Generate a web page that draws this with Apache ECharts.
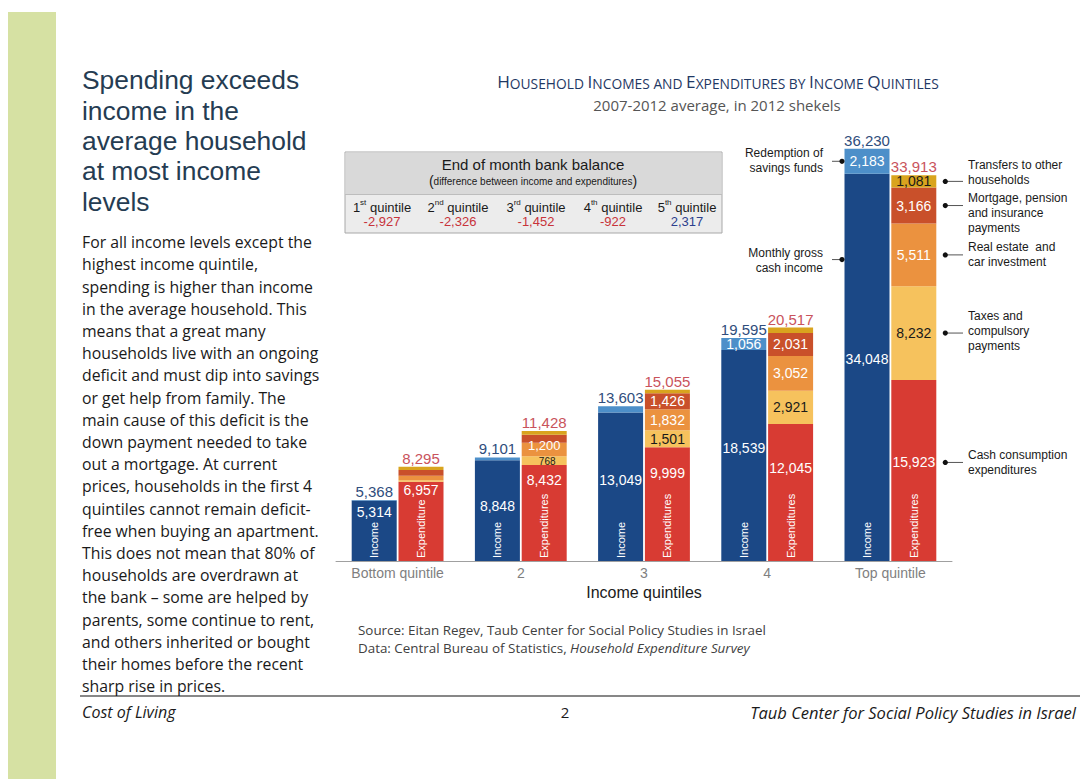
<!DOCTYPE html>
<html>
<head>
<meta charset="utf-8">
<title>Household Incomes and Expenditures by Income Quintiles</title>
<script src="https://cdn.jsdelivr.net/npm/echarts@6/dist/echarts.min.js"></script>
<style>
  html, body { margin: 0; padding: 0; background: #fff; }
  #main { width: 1080px; height: 779px; }
</style>
</head>
<body>
<div id="main"></div>
<script>
// Monthly household figures, 2007-2012 average, in 2012 shekels
const categories = ['Bottom quintile', '2', '3', '4', 'Top quintile'];

// Income stack
const incomeCash = [5314, 8848, 13049, 18539, 34048];      // monthly gross cash income
const incomeSavings = [54, 253, 554, 1056, 2183];           // redemption of savings funds
const incomeTotal = [5368, 9101, 13603, 19595, 36230];

// Expenditure stack (bottom to top)
const expConsumption = [6957, 8432, 9999, 12045, 15923];   // cash consumption expenditures
const expTaxes = [138, 768, 1501, 2921, 8232];             // taxes and compulsory payments
const expRealEstate = [390, 1200, 1832, 3052, 5511];       // real estate and car investment
const expMortgage = [520, 700, 1426, 2031, 3166];          // mortgage, pension and insurance
const expTransfers = [290, 328, 297, 468, 1081];           // transfers to other households
const expTotal = [8295, 11428, 15055, 20517, 33913];

// End of month bank balance
const balanceOrdinals = [['1', 'st'], ['2', 'nd'], ['3', 'rd'], ['4', 'th'], ['5', 'th']];
const bankBalance = [-2927, -2326, -1452, -922, 2317];

const CH = '"Liberation Sans", Arial, sans-serif';
const UI = '"Open Sans", Lato, sans-serif';
const fmt = v => v.toLocaleString('en-US');

const COLORS = {
  cash: '#1b4886',
  savings: '#4d8fc9',
  consumption: '#d83b33',
  taxes: '#f6c25d',
  realEstate: '#eb923f',
  mortgage: '#c9502a',
  transfers: '#d9a41e'
};

const BAR_W = 45;
const HALF = (BAR_W + BAR_W * 0.04) / 2;   // distance from category centre to each bar centre

// vertical nudges for the value labels of the bottom segments
const cashLabelShift = [-19, -5, -7, -8, -8];
const consLabelShift = [-31, -33, -31, -24, -8];

function barSeries(name, stack, values, color, showIdx, labelColor, itemLabel) {
  return {
    name, type: 'bar', stack,
    barWidth: BAR_W, barGap: '4%',
    itemStyle: { color },
    emphasis: { disabled: true },
    label: {
      position: 'inside', fontFamily: CH, fontSize: 14, color: labelColor,
      formatter: p => fmt(p.value)
    },
    data: values.map((v, i) => ({
      value: v,
      label: Object.assign({ show: showIdx.includes(i) }, itemLabel ? itemLabel(i) : {})
    }))
  };
}

const all = [0, 1, 2, 3, 4];
const series = [
  barSeries('Monthly gross cash income', 'inc', incomeCash, COLORS.cash, all, '#fff',
    i => ({ offset: [0, cashLabelShift[i]] })),
  barSeries('Redemption of savings funds', 'inc', incomeSavings, COLORS.savings, [3, 4], '#fff'),
  barSeries('Cash consumption expenditures', 'exp', expConsumption, COLORS.consumption, all, '#fff',
    i => ({ offset: [0, consLabelShift[i]] })),
  barSeries('Taxes and compulsory payments', 'exp', expTaxes, COLORS.taxes, [1, 2, 3, 4], '#1a1a1a',
    i => (i === 1 ? { fontSize: 10, offset: [3, 1] } : {})),
  barSeries('Real estate and car investment', 'exp', expRealEstate, COLORS.realEstate, [1, 2, 3, 4], '#fff',
    i => (i === 1 ? { fontSize: 13, offset: [0, -4] } : {})),
  barSeries('Mortgage, pension and insurance payments', 'exp', expMortgage, COLORS.mortgage, [2, 3, 4], '#fff'),
  barSeries('Transfers to other households', 'exp', expTransfers, COLORS.transfers, [4], '#1a1a1a')
];

// Callouts beside the top-quintile bars
const expStack = [expConsumption, expTaxes, expRealEstate, expMortgage, expTransfers];
function segMid(level) {
  const lo = expStack.slice(0, level).reduce((s, a) => s + a[4], 0);
  return lo + expStack[level][4] / 2;
}
const rightNotes = [
  { text: 'Transfers to other\nhouseholds', value: segMid(4), lift: 24 },
  { text: 'Mortgage, pension\nand insurance\npayments', value: segMid(3), lift: 15.5 },
  { text: 'Real estate  and\ncar investment', value: segMid(2), lift: 15 },
  { text: 'Taxes and\ncompulsory\npayments', value: segMid(1), lift: 24.5 },
  { text: 'Cash consumption\nexpenditures', value: segMid(0), lift: 14.5, shift: consLabelShift[4] }
];
const grossPointerValue = 26500;
const leftNotes = [
  { text: 'Redemption of\nsavings funds', value: incomeCash[4] + incomeSavings[4] / 2, lift: 15.5 },
  { text: 'Monthly gross\ncash income', value: grossPointerValue, lift: 14.5 }
];

function dot(x, y) {
  return { type: 'circle', shape: { cx: x, cy: y, r: 2.6 }, style: { fill: '#111' } };
}
function seg(x1, y1, x2, y2) {
  return { type: 'line', shape: { x1, y1, x2, y2 }, style: { stroke: '#555', lineWidth: 1 } };
}
function noteText(x, y, text, align) {
  return {
    type: 'text', x, y,
    style: { text, fill: '#1a1a1a', fontFamily: CH, fontSize: 12, lineHeight: 15, align, verticalAlign: 'top' }
  };
}

series.push({
  type: 'custom',
  z: 10,
  silent: true,
  clip: false,
  data: categories.map((c, i) => [i, incomeTotal[i], expTotal[i]]),
  renderItem(params, api) {
    const i = api.value(0);
    const [cx, y0] = api.coord([i, 0]);
    const xi = cx - HALF, xe = cx + HALF;
    const yi = api.coord([i, api.value(1)])[1];
    const ye = api.coord([i, api.value(2)])[1];
    const kids = [
      { type: 'text', x: xi, y: yi - 1,
        style: { text: fmt(api.value(1)), fill: '#2f4d7c', fontFamily: CH, fontSize: 15, align: 'center', verticalAlign: 'bottom' } },
      { type: 'text', x: xe, y: ye - 1,
        style: { text: fmt(api.value(2)), fill: '#c9535c', fontFamily: CH, fontSize: 15, align: 'center', verticalAlign: 'bottom' } },
      { type: 'text', x: xi, y: y0 - 3, rotation: Math.PI / 2,
        style: { text: 'Income', fill: '#fff', fontFamily: CH, fontSize: 11, align: 'left', verticalAlign: 'middle' } },
      { type: 'text', x: xe, y: y0 - 3, rotation: Math.PI / 2,
        style: { text: i === 0 ? 'Expenditure' : 'Expenditures', fill: '#fff', fontFamily: CH, fontSize: 11, align: 'left', verticalAlign: 'middle' } }
    ];
    if (i === categories.length - 1) {
      const dxR = xe + BAR_W / 2 + 9;
      rightNotes.forEach(n => {
        const y = api.coord([i, n.value])[1] + (n.shift || 0);
        kids.push(seg(dxR, y, 963, y), dot(dxR, y), noteText(968, y - n.lift, n.text, 'left'));
      });
      const dxL = xi - BAR_W / 2 - 2.5;
      leftNotes.forEach(n => {
        const y = api.coord([i, n.value])[1];
        kids.push(seg(832, y, dxL, y), dot(dxL, y), noteText(823, y - n.lift, n.text, 'right'));
      });
    }
    return { type: 'group', children: kids };
  }
});

// Small-caps chart title
const titleWords = ['Household', 'Incomes', 'and', 'Expenditures', 'by', 'Income', 'Quintiles'];
const titleRich = titleWords.map(w => (w[0] === w[0].toUpperCase()
  ? `{A|${w[0]}}{s|${w.slice(1).toUpperCase()}}`
  : `{s|${w.toUpperCase()}}`)).join('{s| }');

// End-of-month balance table
const colX = [382, 458, 536, 613, 687];
const balanceCells = [];
balanceOrdinals.forEach((o, k) => {
  balanceCells.push({
    type: 'text', x: colX[k], y: 206,
    style: {
      text: `{n|${o[0]}}{u|${o[1]}}{n| quintile}`, align: 'center', verticalAlign: 'middle',
      rich: {
        n: { fontFamily: CH, fontSize: 13, fill: '#1a1a1a', lineHeight: 16, verticalAlign: 'bottom' },
        u: { fontFamily: CH, fontSize: 8, fill: '#1a1a1a', lineHeight: 16, verticalAlign: 'top' }
      }
    }
  });
  balanceCells.push({
    type: 'text', x: colX[k], y: 221,
    style: {
      text: fmt(bankBalance[k]), align: 'center', verticalAlign: 'middle',
      fontFamily: CH, fontSize: 13, fill: bankBalance[k] < 0 ? '#c8333a' : '#2d3f8e'
    }
  });
});

const headingLines = ['Spending exceeds', 'income in the', 'average household', 'at most income', 'levels'];

const bodyText = [
  'For all income levels except the',
  'highest income quintile,',
  'spending is higher than income',
  'in the average household. This',
  'means that a great many',
  'households live with an ongoing',
  'deficit and must dip into savings',
  'or get help from family. The',
  'main cause of this deficit is the',
  'down payment needed to take',
  'out a mortgage. At current',
  'prices, households in the first 4',
  'quintiles cannot remain deficit-',
  'free when buying an apartment.',
  'This does not mean that 80% of',
  'households are overdrawn at',
  'the bank \u2013 some are helped by',
  'parents, some continue to rent,',
  'and others inherited or bought',
  'their homes before the recent',
  'sharp rise in prices.'
].join('\n');

const graphic = [
  { type: 'rect', shape: { x: 8, y: 12, width: 48, height: 767 }, style: { fill: '#d6e1a3' }, z: -1 },
  { type: 'text', x: 82, y: 65,
    style: { text: headingLines.join('\n'),
      fontFamily: CH, fontSize: 26.4, lineHeight: 30.4, fill: '#253c52', verticalAlign: 'top' } },
  { type: 'text', x: 82, y: 231,
    style: { text: bodyText, fontFamily: UI, fontSize: 15.8, lineHeight: 22.2, fill: '#1a1a1a', verticalAlign: 'top' } },
  { type: 'line', shape: { x1: 80, y1: 696, x2: 1080, y2: 696 }, style: { stroke: '#111', lineWidth: 1.2 } },
  { type: 'text', x: 82, y: 712,
    style: { text: 'Cost of Living', fontFamily: UI, fontStyle: 'italic', fontSize: 16, fill: '#1a1a1a', verticalAlign: 'middle' } },
  { type: 'text', x: 565, y: 712,
    style: { text: '2', fontFamily: UI, fontSize: 15, fill: '#1a1a1a', align: 'center', verticalAlign: 'middle' } },
  { type: 'text', x: 1076, y: 712,
    style: { text: 'Taub Center for Social Policy Studies in Israel', fontFamily: UI, fontStyle: 'italic', fontSize: 16.5,
      fill: '#1a1a1a', align: 'right', verticalAlign: 'middle' } },

  { type: 'text', x: 718, y: 80,
    style: { text: titleRich, align: 'center', verticalAlign: 'middle',
      rich: {
        A: { fontFamily: UI, fontSize: 17.2, fill: '#1f3864', verticalAlign: 'bottom', lineHeight: 20 },
        s: { fontFamily: UI, fontSize: 13.8, fill: '#1f3864', verticalAlign: 'bottom', lineHeight: 20 }
      } } },
  { type: 'text', x: 717, y: 105,
    style: { text: '2007-2012 average, in 2012 shekels', fontFamily: UI, fontSize: 15, fill: '#555',
      align: 'center', verticalAlign: 'middle' } },

  { type: 'rect', shape: { x: 345, y: 152, width: 377, height: 81 }, style: { fill: '#ececec', stroke: '#a8a8a8', lineWidth: 1 } },
  { type: 'rect', shape: { x: 345.5, y: 152.5, width: 376, height: 41.5 }, style: { fill: '#d9d9d9' } },
  { type: 'line', shape: { x1: 345, y1: 194.5, x2: 722, y2: 194.5 }, style: { stroke: '#bdbdbd', lineWidth: 1 } },
  { type: 'text', x: 533, y: 164,
    style: { text: 'End of month bank balance', fontFamily: CH, fontSize: 15, fill: '#1a1a1a', align: 'center', verticalAlign: 'middle' } },
  { type: 'text', x: 533, y: 181,
    style: { text: '{p|(}{t|difference between income and expenditures}{p|)}', align: 'center', verticalAlign: 'middle',
      rich: {
        p: { fontFamily: CH, fontSize: 14, fill: '#1a1a1a', lineHeight: 16, verticalAlign: 'middle' },
        t: { fontFamily: CH, fontSize: 10, fill: '#1a1a1a', lineHeight: 16, verticalAlign: 'middle' }
      } } },
  ...balanceCells,

  { type: 'text', x: 358, y: 630,
    style: { text: 'Source: Eitan Regev, Taub Center for Social Policy Studies in Israel', fontFamily: UI, fontSize: 13.4,
      fill: '#404040', verticalAlign: 'middle' } },
  { type: 'text', x: 358, y: 648,
    style: { text: '{r|Data: Central Bureau of Statistics, }{i|Household Expenditure Survey}', verticalAlign: 'middle',
      rich: {
        r: { fontFamily: UI, fontSize: 13.4, fill: '#404040' },
        i: { fontFamily: UI, fontSize: 13.4, fill: '#404040', fontStyle: 'italic' }
      } } }
];

const chart = echarts.init(document.getElementById('main'), null, { renderer: 'svg', width: 1080, height: 779 });
chart.setOption({
  animation: false,
  backgroundColor: '#fff',
  grid: { left: 336, width: 616, top: 106, height: 455 },
  xAxis: {
    type: 'category',
    data: categories,
    axisLine: { lineStyle: { color: '#a0a0a0', width: 1 } },
    axisTick: { show: false },
    axisLabel: { color: '#7f7f7f', fontFamily: CH, fontSize: 14, margin: 5 },
    name: 'Income quintiles',
    nameLocation: 'middle',
    nameGap: 18,
    nameTextStyle: { color: '#1a1a1a', fontFamily: CH, fontSize: 16 }
  },
  yAxis: { type: 'value', min: 0, max: 40000, show: false },
  series,
  graphic
});
</script>
</body>
</html>
